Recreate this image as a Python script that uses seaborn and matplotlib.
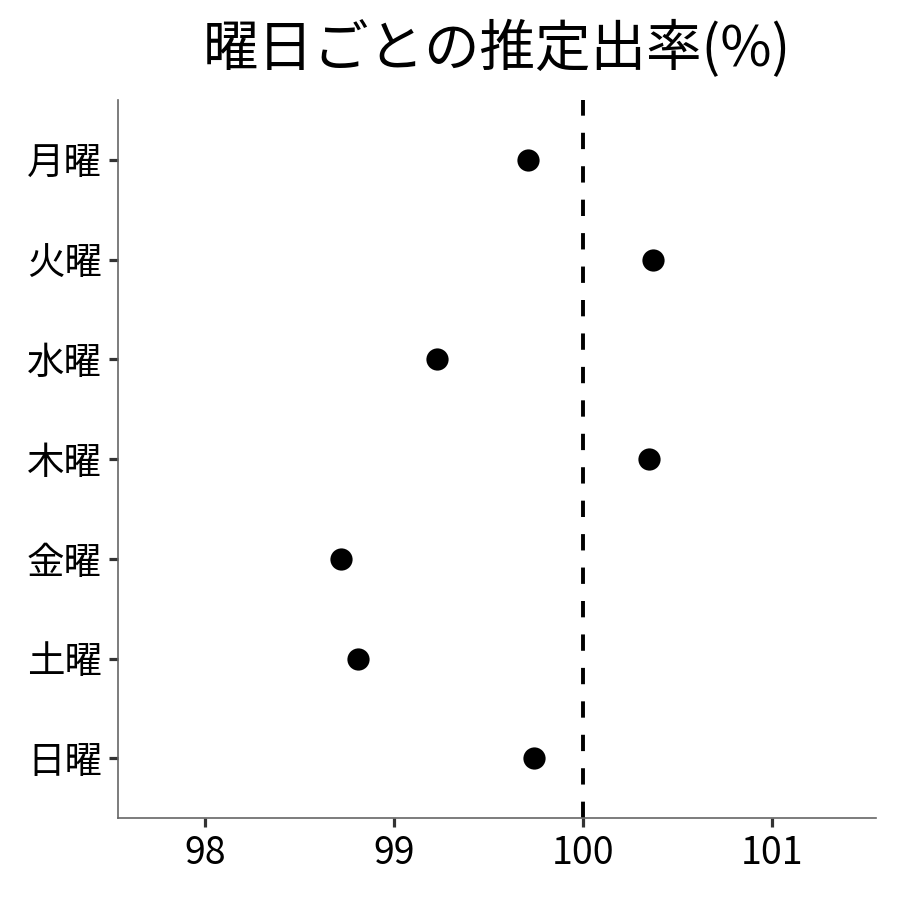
import matplotlib
matplotlib.use("Agg")
import matplotlib.pyplot as plt
import seaborn as sns
import pandas as pd

days = ["月曜", "火曜", "水曜", "木曜", "金曜", "土曜", "日曜"]
rates = [99.71, 100.37, 99.23, 100.35, 98.72, 98.81, 99.74]
xticks = [98, 99, 100, 101]

sns.set_style("white")
plt.rcParams['font.family'] = ['Noto Sans CJK JP', 'DejaVu Sans']
plt.rcParams['text.color'] = 'black'
plt.rcParams['xtick.color'] = '#333333'
plt.rcParams['ytick.color'] = '#333333'
plt.rcParams['xtick.labelcolor'] = 'black'
plt.rcParams['ytick.labelcolor'] = 'black'

df = pd.DataFrame({"day": days, "rate": rates})

fig = plt.figure(figsize=(9, 9), dpi=100)
ax = fig.add_axes([0.131, 0.091, 0.842, 0.798])
sns.stripplot(data=df, x="rate", y="day", order=days, jitter=False,
              color="black", size=16, ax=ax)
ax.axvline(100, color="black", linestyle=(0, (4.2, 4.4)), linewidth=2.8)

ax.set_xlim(97.54, 101.55)
ax.set_ylim(6.6, -0.6)
ax.set_xticks(xticks)
ax.set_xticklabels([str(t) for t in xticks])
ax.set_xlabel("")
ax.set_ylabel("")
ax.set_title("曜日ごとの推定出率(%)", fontsize=40, pad=24, color="black")
ax.tick_params(axis="both", length=6.5, width=2.3, pad=5, left=True, bottom=True)
for lbl in ax.get_xticklabels() + ax.get_yticklabels():
    lbl.set_fontsize(27)
    lbl.set_color("black")
for s in ["top", "right"]:
    ax.spines[s].set_visible(False)
for s in ["left", "bottom"]:
    ax.spines[s].set_color("#666666")
    ax.spines[s].set_linewidth(1.2)

fig.savefig("out.png", dpi=100, facecolor="white")
